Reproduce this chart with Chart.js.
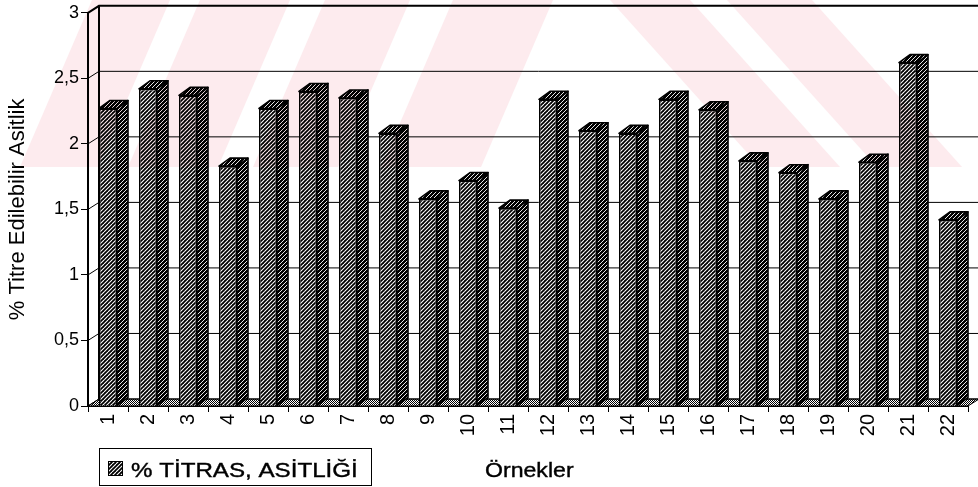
<!DOCTYPE html>
<html>
<head>
<meta charset="utf-8">
<script src="https://cdn.jsdelivr.net/npm/chart.js@4.4.1/dist/chart.umd.min.js"></script>
<style>
  html, body { margin: 0; padding: 0; background: #fff; }
  #wrap { width: 978px; height: 487px; position: relative; }
</style>
</head>
<body>
<div id="wrap"><canvas id="c" width="978" height="487"></canvas></div>
<script>
// Samples and their titratable acidity (%)
const categories = ['1','2','3','4','5','6','7','8','9','10','11','12','13','14','15','16','17','18','19','20','21','22'];
const acidity = [2.27, 2.42, 2.37, 1.83, 2.27, 2.40, 2.35, 2.08, 1.58, 1.72, 1.51,
                 2.34, 2.10, 2.08, 2.34, 2.26, 1.87, 1.78, 1.58, 1.86, 2.62, 1.42];
const yTicks = [0, 0.5, 1, 1.5, 2, 2.5, 3];
const seriesLabel = '% TİTRAS, ASİTLİĞİ';
const yTitle = '% Titre Edilebilir Asitlik';
const xTitle = 'Örnekler';

const FONT = '"Liberation Sans", Arial, sans-serif';
const WALL = { dx: 11, dy: -7 };   // depth of the back wall
const BAR = { dx: 11, dy: -8 };    // depth of each column

const canvas = document.getElementById('c');
const mainCtx = canvas.getContext('2d');

// diagonal "////" hatch: thin white lines on black
function makeHatch(step, lw) {
  const t = document.createElement('canvas');
  t.width = t.height = step * 2;
  const g = t.getContext('2d');
  g.fillStyle = '#000';
  g.fillRect(0, 0, t.width, t.height);
  g.strokeStyle = '#fff';
  g.lineWidth = lw;
  for (let k = -3; k <= 4; k++) {
    g.beginPath();
    g.moveTo(k * step, step * 2);
    g.lineTo(k * step + step * 2, 0);
    g.stroke();
  }
  return mainCtx.createPattern(t, 'repeat');
}
// fine checker for the floor
function makeChecker() {
  const t = document.createElement('canvas');
  t.width = t.height = 2;
  const g = t.getContext('2d');
  g.fillStyle = '#fff'; g.fillRect(0, 0, 2, 2);
  g.fillStyle = '#000'; g.fillRect(0, 0, 1, 1); g.fillRect(1, 1, 1, 1);
  return mainCtx.createPattern(t, 'repeat');
}
const hatch = makeHatch(4, 1.1);
const hatchSide = makeHatch(4, 0.9);
const checker = makeChecker();

function poly(ctx, pts, fill, stroke, lw) {
  ctx.beginPath();
  ctx.moveTo(pts[0][0], pts[0][1]);
  for (let i = 1; i < pts.length; i++) ctx.lineTo(pts[i][0], pts[i][1]);
  ctx.closePath();
  if (fill) { ctx.fillStyle = fill; ctx.fill(); }
  if (stroke) { ctx.strokeStyle = stroke; ctx.lineWidth = lw || 1; ctx.stroke(); }
}

// back wall, side-wall grid and floor, drawn behind the columns
const box3d = {
  id: 'box3d',
  beforeDraw(chart) {
    const ctx = chart.ctx;
    ctx.save();
    ctx.fillStyle = '#fff';
    ctx.fillRect(0, 0, chart.width, chart.height);
    ctx.restore();
  },
  beforeDatasetsDraw(chart) {
    const { ctx, chartArea: a, scales: { y } } = chart;
    const y0 = y.getPixelForValue(0);
    const yTop = y.getPixelForValue(yTicks[yTicks.length - 1]);
    ctx.save();
    // floor
    poly(ctx, [[a.left, y0], [a.right, y0], [a.right + WALL.dx, y0 + WALL.dy], [a.left + WALL.dx, y0 + WALL.dy]],
         checker, '#000', 1);
    // gridlines on the side wall and back wall
    yTicks.forEach(v => {
      const py = y.getPixelForValue(v);
      ctx.beginPath();
      ctx.moveTo(a.left, py);
      ctx.lineTo(a.left + WALL.dx, py + WALL.dy);
      ctx.lineTo(chart.width, py + WALL.dy);
      ctx.strokeStyle = '#000';
      ctx.lineWidth = v === yTicks[yTicks.length - 1] ? 2 : 1;
      ctx.stroke();
    });
    // back corner of the walls
    ctx.beginPath();
    ctx.moveTo(a.left + WALL.dx, yTop + WALL.dy);
    ctx.lineTo(a.left + WALL.dx, y0 + WALL.dy);
    ctx.lineWidth = 2;
    ctx.stroke();
    ctx.restore();
  },
  afterDatasetsDraw(chart) {
    const ctx = chart.ctx;
    const meta = chart.getDatasetMeta(0);
    ctx.save();
    ctx.lineJoin = 'round';
    meta.data.forEach(bar => {
      const { x, y, base, width } = bar.getProps(['x', 'y', 'base', 'width'], true);
      const l = x - width / 2, r = x + width / 2;
      // right side face
      poly(ctx, [[r, y], [r + BAR.dx, y + BAR.dy], [r + BAR.dx, base + BAR.dy], [r, base]], hatchSide, '#000', 1.6);
      // top face
      poly(ctx, [[l, y], [r, y], [r + BAR.dx, y + BAR.dy], [l + BAR.dx, y + BAR.dy]], hatchSide, '#000', 1.6);
    });
    ctx.restore();
  },
  afterDraw(chart) {
    const ctx = chart.ctx;
    ctx.save();
    // legend box
    ctx.strokeStyle = '#000';
    ctx.lineWidth = 1;
    ctx.strokeRect(99.5, 448.5, 272, 37);
    ctx.fillStyle = hatch;
    ctx.fillRect(108, 461, 15, 15);
    ctx.strokeRect(108.5, 461.5, 14, 14);
    ctx.fillStyle = '#000';
    ctx.strokeStyle = '#000';
    ctx.lineWidth = 0.4;
    ctx.font = '21px ' + FONT;
    ctx.textBaseline = 'alphabetic';
    ctx.save();
    ctx.translate(131, 477);
    ctx.scale(1.15, 1);
    ctx.fillText(chart.data.datasets[0].label, 0, 0);
    ctx.strokeText(chart.data.datasets[0].label, 0, 0);
    ctx.restore();
    // category axis title
    ctx.save();
    ctx.translate(485, 477);
    ctx.scale(1.1, 1);
    ctx.fillText(xTitle, 0, 0);
    ctx.strokeText(xTitle, 0, 0);
    ctx.restore();

    // faint printed watermark band across the top
    const H = 167, L = -72, R = 150;
    const stripes = [
      [92, 170, L], [200, 290, L], [325, 410, L], [453, 553, L],
      [610, 690, R], [727, 812, R]
    ];
    ctx.globalCompositeOperation = 'multiply';
    stripes.forEach(([a, b, s]) => {
      poly(ctx, [[a, 0], [b, 0], [b + s, H], [a + s, H]], '#fdebee');
    });
    ctx.restore();
  }
};

new Chart(canvas, {
  type: 'bar',
  data: {
    labels: categories,
    datasets: [{
      label: seriesLabel,
      data: acidity,
      backgroundColor: hatch,
      borderColor: '#000',
      borderWidth: 1.6,
      barPercentage: 0.45,
      categoryPercentage: 1.0
    }]
  },
  options: {
    responsive: false,
    animation: false,
    devicePixelRatio: 1,
    layout: { padding: { top: 12, right: 10, left: 0, bottom: 0 } },
    plugins: {
      legend: { display: false },
      tooltip: { enabled: false }
    },
    scales: {
      x: {
        afterFit: s => { s.height = 81; },
        grid: { drawOnChartArea: false, drawTicks: true, tickLength: 6, color: '#000', lineWidth: 1 },
        border: { display: true, color: '#000', width: 2 },
        ticks: {
          color: '#000', font: { family: FONT, size: 20 },
          minRotation: 90, maxRotation: 90, padding: 2, autoSkip: false
        }
      },
      y: {
        min: 0, max: 3,
        afterFit: s => { s.width = 88; },
        afterBuildTicks: s => { s.ticks = yTicks.map(v => ({ value: v })); },
        grid: { drawOnChartArea: false, drawTicks: true, tickLength: 7, color: '#000', lineWidth: 1 },
        border: { display: true, color: '#000', width: 2 },
        ticks: {
          color: '#000', font: { family: FONT, size: 18 }, padding: 2,
          callback: v => String(v).replace('.', ',')
        },
        title: {
          display: true, text: yTitle, color: '#000',
          font: { family: FONT, size: 22 }, padding: { top: 5, bottom: 0 }
        }
      }
    }
  },
  plugins: [box3d]
});
</script>
</body>
</html>
